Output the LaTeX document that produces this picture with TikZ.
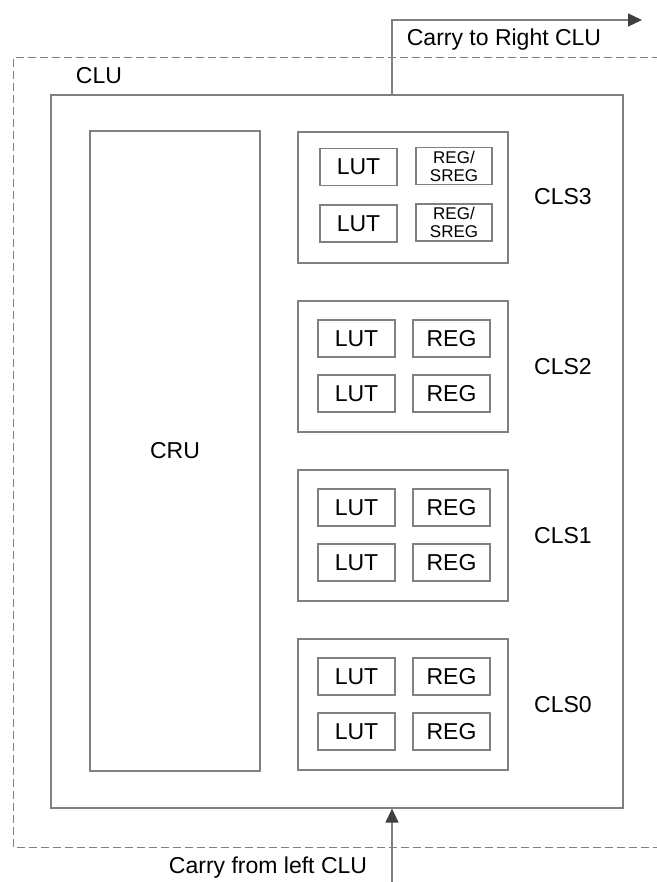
\documentclass[tikz,border=0pt]{standalone}
\usepackage{fontspec}
\setmainfont{Liberation Sans}
\usetikzlibrary{arrows.meta}
\definecolor{lg}{RGB}{128,128,128}
\definecolor{ag}{RGB}{64,64,64}
\tikzset{
  blk/.style={draw=lg, line width=1.2pt, inner sep=0pt},
  bigfont/.style={font=\fontsize{23}{27}\selectfont},
  txt/.style={bigfont, inner sep=0pt},
  cell/.style={blk, bigfont, minimum width=77pt, minimum height=37pt},
  sreg/.style={blk, align=center, font=\fontsize{17}{18}\selectfont, minimum width=76pt, minimum height=37pt},
  clsbox/.style={blk, minimum width=210pt, minimum height=131pt},
  carry/.style={draw=lg, line width=1.2pt, -{Triangle[length=14pt,width=13pt,color=ag]}},
  outer/.style={draw=lg, line width=1pt, dash pattern=on 8pt off 4pt}
}
\begin{document}
\begin{tikzpicture}[x=1pt,y=-1pt]
\useasboundingbox (0,0) rectangle (656,882);
\draw[outer] (660,58) -- (13,58) -- (13,847) -- (660,847);
\node[blk, minimum width=572pt, minimum height=713pt] (clu) at (337,451.5) {};
\node[txt, anchor=base] (clulbl) at (99,84) {CLU};
\node[blk, bigfont, minimum width=170pt, minimum height=640pt] (cru) at (175,451) {CRU};
% CLS3
\node[clsbox] (cls3) at (403,197.5) {};
\node[cell] (lut31) at (358.5,167) {LUT};
\node[cell] (lut32) at (358.5,223.5) {LUT};
\node[sreg] (reg31) at (454,166) {REG/\\SREG};
\node[sreg] (reg32) at (454,222.5) {REG/\\SREG};
\node[txt, anchor=base] (l3) at (563,205) {CLS3};
% CLS2
\node[clsbox] (cls2) at (403,366.5) {};
\node[cell] (lut21) at (356.5,338.5) {LUT};
\node[cell] (lut22) at (356.5,393.5) {LUT};
\node[cell] (reg21) at (451.5,338.5) {REG};
\node[cell] (reg22) at (451.5,393.5) {REG};
\node[txt, anchor=base] (l2) at (563,374) {CLS2};
% CLS1
\node[clsbox] (cls1) at (403,535.5) {};
\node[cell] (lut11) at (356.5,507.5) {LUT};
\node[cell] (lut12) at (356.5,562.5) {LUT};
\node[cell] (reg11) at (451.5,507.5) {REG};
\node[cell] (reg12) at (451.5,562.5) {REG};
\node[txt, anchor=base] (l1) at (563,543) {CLS1};
% CLS0
\node[clsbox] (cls0) at (403,704.5) {};
\node[cell] (lut01) at (356.5,676.5) {LUT};
\node[cell] (lut02) at (356.5,731.5) {LUT};
\node[cell] (reg01) at (451.5,676.5) {REG};
\node[cell] (reg02) at (451.5,731.5) {REG};
\node[txt, anchor=base] (l0) at (563,712) {CLS0};
% carries
\coordinate (outT) at (392,20);
\coordinate (rt) at (642,20);
\coordinate (inB) at (392,882);
\draw[carry] (clu.north -| outT) |- (rt);
\draw[carry] (inB) -- (clu.south -| inB);
\node[txt, anchor=base] (ctr) at (504,46) {Carry to Right CLU};
\node[txt, anchor=base] (cfl) at (268,873) {Carry from left CLU};
\end{tikzpicture}
\end{document}
